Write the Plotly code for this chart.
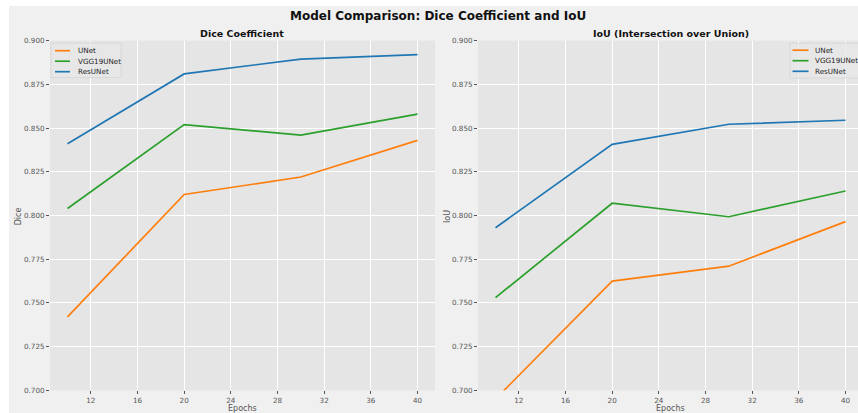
import plotly.graph_objects as go

# Training snapshots (epochs) and per-model scores
epochs = [10, 20, 30, 40]
models = ["UNet", "VGG19UNet", "ResUNet"]
colors = ["#ff7f0e", "#2ca02c", "#1f77b4"]

dice_unet = [0.742, 0.812, 0.822, 0.843]
dice_vgg19unet = [0.804, 0.852, 0.846, 0.858]
dice_resunet = [0.841, 0.881, 0.8895, 0.892]

iou_unet = [0.695, 0.7625, 0.771, 0.7965]
iou_vgg19unet = [0.753, 0.807, 0.7993, 0.814]
iou_resunet = [0.793, 0.8407, 0.8522, 0.8545]

y_ticks = [0.700, 0.725, 0.750, 0.775, 0.800, 0.825, 0.850, 0.875, 0.900]
x_ticks = [12, 16, 20, 24, 28, 32, 36, 40]

W, H = 858, 413
FONT = "DejaVu Sans"
TICK = "#555555"


def px(x):
    return x / W


def py(y):
    return 1 - y / H


fig = go.Figure()

dice_series = [dice_unet, dice_vgg19unet, dice_resunet]
iou_series = [iou_unet, iou_vgg19unet, iou_resunet]

for name, color, vals in zip(models, colors, dice_series):
    fig.add_trace(go.Scatter(x=epochs, y=vals, mode="lines", name=name,
                             line=dict(color=color, width=1.7),
                             xaxis="x", yaxis="y", showlegend=False))
for name, color, vals in zip(models, colors, iou_series):
    fig.add_trace(go.Scatter(x=epochs, y=vals, mode="lines", name=name,
                             line=dict(color=color, width=1.7),
                             xaxis="x2", yaxis="y2", showlegend=False))

y_top, y_bot = 40.7, 390.3
ydom = [py(y_bot), py(y_top)]

axis_common = dict(
    showgrid=True, gridcolor="white", gridwidth=0.8, zeroline=False,
    showline=False, ticks="outside", ticklen=3, tickwidth=0.8,
    tickcolor=TICK, tickfont=dict(family=FONT, size=7.2, color=TICK),
    automargin=False,
)

fig.update_layout(
    width=W, height=H,
    margin=dict(l=0, r=0, t=0, b=0),
    paper_bgcolor="#f0f0f0",
    plot_bgcolor="#e5e5e5",
    font=dict(family=FONT),
    xaxis=dict(domain=[px(50), px(435)], range=[8.5, 41.5],
               tickvals=x_ticks, anchor="y", **axis_common),
    yaxis=dict(domain=ydom, range=[0.7, 0.9], tickvals=y_ticks,
               tickformat=".3f", anchor="x", **axis_common),
    xaxis2=dict(domain=[px(478), 1.0], range=[8.5, 8.5 + 380 / (385 / 33)],
                tickvals=x_ticks, anchor="y2", **axis_common),
    yaxis2=dict(domain=ydom, range=[0.7, 0.9], tickvals=y_ticks,
                tickformat=".3f", anchor="x2", **axis_common),
    showlegend=False,
)

# thin white border along the top and left edges of the figure
shapes = [
    dict(type="rect", xref="paper", yref="paper", layer="below",
         x0=0, x1=1.0, y0=py(6), y1=1.0, fillcolor="white",
         line=dict(width=0)),
    dict(type="rect", xref="paper", yref="paper", layer="below",
         x0=0, x1=px(9), y0=0, y1=1.0, fillcolor="white",
         line=dict(width=0)),
]

annotations = []


def text(x, y, s, size, bold=False, color="#111111", xanchor="center",
         textangle=0):
    annotations.append(dict(
        x=px(x), y=py(y), xref="paper", yref="paper", showarrow=False,
        text=f"<b>{s}</b>" if bold else s, xanchor=xanchor, yanchor="middle",
        textangle=textangle, font=dict(family=FONT, size=size, color=color)))


# titles
text(438, 15.7, "Model Comparison: Dice Coefficient and IoU", 12, bold=True)
text(241.5, 33.7, "Dice Coefficient", 9.5, bold=True)
text(670.5, 33.7, "IoU (Intersection over Union)", 9.5, bold=True)

# axis titles
text(242.5, 408.3, "Epochs", 8.0, color=TICK)
text(670, 408.3, "Epochs", 8.0, color=TICK)
text(18.3, 216, "Dice", 8.0, color=TICK, textangle=-90)
text(447, 216, "IoU", 8.0, color=TICK, textangle=-90)


def legend(box, line_x, text_x, rows):
    x0, x1, y0, y1 = box
    shapes.append(dict(type="rect", xref="paper", yref="paper", layer="above",
                       x0=px(x0), x1=px(x1), y0=py(y1), y1=py(y0),
                       fillcolor="rgba(232,232,232,0.85)",
                       line=dict(color="#d6d6d6", width=0.8)))
    for name, color, yy in zip(models, colors, rows):
        shapes.append(dict(type="line", xref="paper", yref="paper",
                           layer="above", x0=px(line_x[0]), x1=px(line_x[1]),
                           y0=py(yy), y1=py(yy),
                           line=dict(color=color, width=1.7)))
        text(text_x, yy, name, 7.2, color="#222222", xanchor="left")


legend((51, 121, 43, 77.5), (55, 70), 75.5, [50.7, 61.2, 71.7])
legend((790, 858.5, 43.3, 78), (792.5, 808.5), 812.5, [50.2, 60.7, 71.3])

fig.update_layout(shapes=shapes, annotations=annotations)
fig.write_html("out.html")
